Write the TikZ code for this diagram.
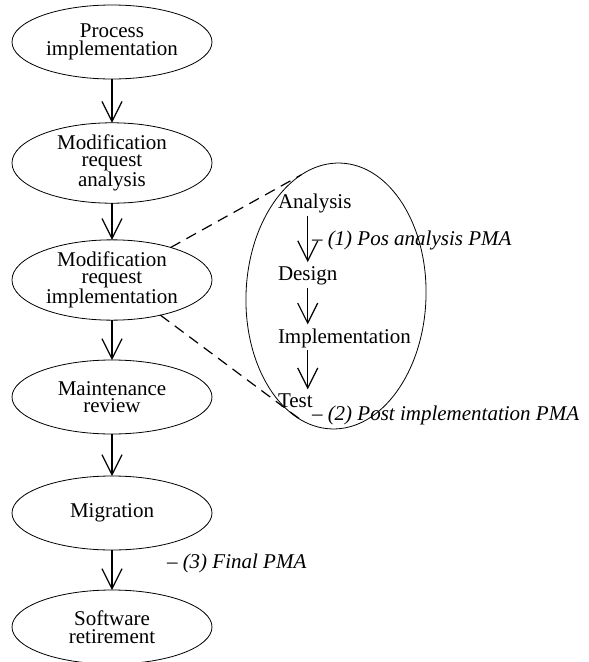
\documentclass[tikz,border=0pt]{standalone}
\usepackage{fontspec}
\setmainfont{Liberation Serif}
\usepackage{tikz}
\usetikzlibrary{shapes.geometric, arrows.meta}
\tikzset{inner sep=0pt, outer sep=0pt}
\tikzset{
  phase/.style={ellipse, draw, line width=0.8pt, minimum width=200pt, minimum height=74pt, align=center},
  flow/.style={line width=1.2pt, -{Straight Barb[length=20pt, width=20pt]}},
  pma/.style={anchor=base west, font=\fontsize{21}{17.5}\selectfont\itshape},
  zoomline/.style={line width=1.2pt, dash pattern=on 11pt off 7pt}
}

\begin{document}
\begin{tikzpicture}[x=1pt, y=-1pt, font=\fontsize{21}{17.5}\selectfont]
\useasboundingbox (0,0) rectangle (589,662);
\foreach \name/\y/\txt in {proc/42/{Process\\implementation}, mra/163/{Modification\\request\\analysis},
    mri/280/{Modification\\request\\implementation}, rev/397/{Maintenance\\review},
    mig/513/{Migration}, ret/627/{Software\\retirement}} {
  \node[phase] (\name) at (112,\y) {\txt};
} % end of \foreach \name
\foreach \a/\b in {proc/mra, mra/mri, mri/rev, rev/mig, mig/ret} {
  \draw[flow] (\a) -- (\b);
} % end of \foreach \a

\node[phase, minimum width=180pt, minimum height=266pt, rotate=-2] (sub) at (336,296) {};
\draw[zoomline] (mri.29) -- (sub.108);
\draw[zoomline] (mri.-36) -- (sub.256);
\foreach \name/\y/\txt in {ana/208/Analysis, des/280/Design, imp/343/Implementation, tst/407/Test} {
  \node[anchor=base west] (\name) at (278,\y) {\txt};
} % end of \foreach \name
\foreach \a/\b in {ana/des, des/imp, imp/tst} {
  \draw[flow, shorten <=3pt, shorten >=4pt] (\a.south -| des) -- (\b.north -| des);
} % end of \foreach \a

\node[pma] (pma1) at (312,245) {-- (1) Pos analysis PMA};
\node[pma] (pma2) at (312,420) {-- (2) Post implementation PMA};
\node[pma] (pma3) at (167,568) {-- (3) Final PMA};
\end{tikzpicture}
\end{document}
